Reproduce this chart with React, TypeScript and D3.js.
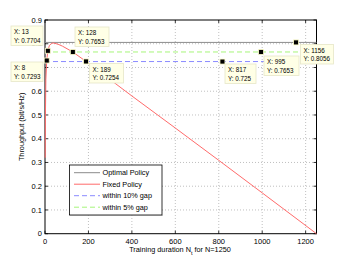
import React from "react";
import * as d3 from "d3";

const xTicks = [0, 200, 400, 600, 800, 1000, 1200];
const yTicks = [0, 0.1, 0.2, 0.3, 0.4, 0.5, 0.6, 0.7, 0.8, 0.9];
const yTickLabels = ["0", "0.1", "0.2", "0.3", "0.4", "0.5", "0.6", "0.7", "0.8", "0.9"];

const fixedNt = [1, 2, 4, 8, 13, 20, 30, 40, 60, 80, 128, 189, 400, 600, 800, 1000, 1250];
const fixedThroughput = [0.32, 0.5, 0.65, 0.7293, 0.7704, 0.792, 0.802, 0.803, 0.798, 0.79, 0.7653, 0.7254, 0.58, 0.445, 0.309, 0.172, 0];

const optimalNt = [0, 1250];
const optimalThroughput = [0.8056, 0.8056];
const gap10 = [0.725, 0.725];
const gap5 = [0.7653, 0.7653];

const tipX = [13, 8, 128, 189, 817, 995, 1156];
const tipY = [0.7704, 0.7293, 0.7653, 0.7254, 0.725, 0.7653, 0.8056];
const tipXLabels = ["X: 13", "X: 8", "X: 128", "X: 189", "X: 817", "X: 995", "X: 1156"];
const tipYLabels = ["Y: 0.7704", "Y: 0.7293", "Y: 0.7653", "Y: 0.7254", "Y: 0.725", "Y: 0.7653", "Y: 0.8056"];

const legendLabels = ["Optimal Policy", "Fixed Policy", "within 10% gap", "within 5% gap"];

const W = 349, H = 263;
const L = 45, R = 316.5, T = 20, B = 233.7;
const FONT = "'Liberation Sans', Arial, Helvetica, sans-serif";

export default function App() {
  const x = d3.scaleLinear().domain([0, 1250]).range([L, R]);
  const y = d3.scaleLinear().domain([0, 0.9]).range([B, T]);
  const line = d3.line<[number, number]>().x(d => x(d[0])).y(d => y(d[1]));

  const fixedPath = line(fixedNt.map((n, i) => [n, fixedThroughput[i]]) as [number, number][]) || "";
  const optPath = line(optimalNt.map((n, i) => [n, optimalThroughput[i]]) as [number, number][]) || "";
  const g10Path = line(optimalNt.map((n, i) => [n, gap10[i]]) as [number, number][]) || "";
  const g5Path = line(optimalNt.map((n, i) => [n, gap5[i]]) as [number, number][]) || "";

  const tipBoxes = [
    { bx: 11, by: 26 },
    { bx: 11, by: 62 },
    { bx: 75, by: 27 },
    { bx: 89.5, by: 63.5 },
    { bx: 225, by: 64 },
    { bx: 264, by: 56 },
    { bx: 300.5, by: 44.5 },
  ];
  const tipW = [32, 32, 34, 34, 31, 35, 33];

  const colors = ["#8c8c8c", "#ff6b6b", "#8a8aff", "#a6f57a"];
  const dashes = ["", "", "5,3", "5,3"];

  return (
    <svg width={W} height={H} style={{ position: "absolute", left: 0, top: 0, background: "#fff" }} fontFamily={FONT}>
      <rect x={0} y={0} width={W} height={H} fill="#fff" />
      {xTicks.filter(t => t > 0).map(t => (
        <line key={"gx" + t} x1={x(t)} x2={x(t)} y1={T} y2={B} stroke="#b0b0b0" strokeWidth={0.8} strokeDasharray="1,2" />
      ))}
      {yTicks.filter(t => t > 0 && t < 0.9).map(t => (
        <line key={"gy" + t} x1={L} x2={R} y1={y(t)} y2={y(t)} stroke="#b0b0b0" strokeWidth={0.8} strokeDasharray="1,2" />
      ))}
      <rect x={L} y={T} width={R - L} height={B - T} fill="none" stroke="#000" strokeWidth={1} />
      {xTicks.map(t => (
        <g key={"xt" + t}>
          <line x1={x(t)} x2={x(t)} y1={B} y2={B - 3} stroke="#000" strokeWidth={0.8} />
          <line x1={x(t)} x2={x(t)} y1={T} y2={T + 3} stroke="#000" strokeWidth={0.8} />
          <text x={x(t)} y={B + 10} fontSize={7.5} textAnchor="middle" fill="#000">{t}</text>
        </g>
      ))}
      {yTicks.map((t, i) => (
        <g key={"yt" + t}>
          <line x1={L} x2={L + 3} y1={y(t)} y2={y(t)} stroke="#000" strokeWidth={0.8} />
          <line x1={R} x2={R - 3} y1={y(t)} y2={y(t)} stroke="#000" strokeWidth={0.8} />
          <text x={L - 3} y={y(t) + 2.7} fontSize={7.5} textAnchor="end" fill="#000">{yTickLabels[i]}</text>
        </g>
      ))}
      {/* series drawn above axes */}
      <path d={g10Path} fill="none" stroke={colors[2]} strokeWidth={1} strokeDasharray="5,3" />
      <path d={g5Path} fill="none" stroke={colors[3]} strokeWidth={1} strokeDasharray="5,3" />
      <path d={optPath} fill="none" stroke={colors[0]} strokeWidth={1} />
      <path d={fixedPath} fill="none" stroke={colors[1]} strokeWidth={1} />
      <text x={180} y={252} fontSize={7.3} textAnchor="middle" fill="#000">
        Training duration N<tspan dy={2.8} fontSize={5.5}>t</tspan><tspan dy={-2.8}> for N=1250</tspan>
      </text>
      <text transform={`translate(23.5,${(T + B) / 2}) rotate(-90)`} fontSize={7.3} textAnchor="middle" fill="#000">
        Throughput (bit/s/Hz)
      </text>
      <rect x={69.5} y={165} width={92.5} height={50} fill="#fff" stroke="#000" strokeWidth={0.8} />
      <line x1={70} x2={162.5} y1={215.5} y2={215.5} stroke="#777" strokeWidth={0.6} />
      {legendLabels.map((lab, i) => {
        const ly = 172.7 + i * 11.5;
        return (
          <g key={lab}>
            <line x1={74} x2={100} y1={ly} y2={ly} stroke={colors[i]} strokeWidth={1} strokeDasharray={dashes[i] || undefined} />
            <text x={102.5} y={ly + 2.6} fontSize={7.3} fill="#000">{lab}</text>
          </g>
        );
      })}
      {tipX.map((tx, i) => {
        const b = tipBoxes[i];
        return (
          <g key={"tip" + i}>
            <rect x={b.bx} y={b.by} width={tipW[i]} height={19.5} fill="#ffffe6" stroke="#e6e6c8" strokeWidth={0.8} />
            <text x={b.bx + 3} y={b.by + 8} fontSize={6.3} fill="#000">{tipXLabels[i]}</text>
            <text x={b.bx + 3} y={b.by + 16.5} fontSize={6.3} fill="#000">{tipYLabels[i]}</text>
            <rect x={x(tx) - 2.5} y={y(tipY[i]) - 2.5} width={5} height={5} fill="#000" stroke="#ffffcc" strokeWidth={0.8} />
          </g>
        );
      })}
    </svg>
  );
}
